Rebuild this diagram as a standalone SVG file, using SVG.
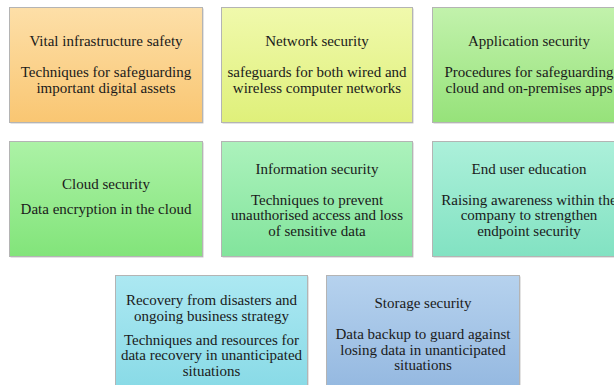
<svg xmlns="http://www.w3.org/2000/svg" width="614" height="385" viewBox="0 0 614 385">
  <defs>
    <linearGradient id="gOrange" x1="0" y1="0" x2="0" y2="1">
      <stop offset="0" stop-color="#fddfa8"/>
      <stop offset="1" stop-color="#f9c672"/>
    </linearGradient>
    <linearGradient id="gLime" x1="0" y1="0" x2="0" y2="1">
      <stop offset="0" stop-color="#f0f9ac"/>
      <stop offset="1" stop-color="#dff07a"/>
    </linearGradient>
    <linearGradient id="gLeaf" x1="0" y1="0" x2="0" y2="1">
      <stop offset="0" stop-color="#c2f2ac"/>
      <stop offset="1" stop-color="#96e27a"/>
    </linearGradient>
    <linearGradient id="gGreen" x1="0" y1="0" x2="0" y2="1">
      <stop offset="0" stop-color="#acf2a6"/>
      <stop offset="1" stop-color="#82e47a"/>
    </linearGradient>
    <linearGradient id="gMint" x1="0" y1="0" x2="0" y2="1">
      <stop offset="0" stop-color="#acf2bc"/>
      <stop offset="1" stop-color="#82e49c"/>
    </linearGradient>
    <linearGradient id="gAqua" x1="0" y1="0" x2="0" y2="1">
      <stop offset="0" stop-color="#acf0da"/>
      <stop offset="1" stop-color="#82e2c2"/>
    </linearGradient>
    <linearGradient id="gCyan" x1="0" y1="0" x2="0" y2="1">
      <stop offset="0" stop-color="#ace8f2"/>
      <stop offset="1" stop-color="#88dae6"/>
    </linearGradient>
    <linearGradient id="gBlue" x1="0" y1="0" x2="0" y2="1">
      <stop offset="0" stop-color="#b6d2ee"/>
      <stop offset="1" stop-color="#94b8e0"/>
    </linearGradient>
  </defs>
  <style>
    .box { stroke: #b4b4b4; stroke-width: 1; }
    .shadow { fill: #9a9a9a; opacity: 0.55; }
    text { font-family: "Liberation Serif", "Times New Roman", serif; font-size: 15px; fill: #1a1a1a; text-anchor: middle; }
  </style>

  <rect width="614" height="385" fill="#ffffff"/>

  <g id="vital-infrastructure">
    <rect class="shadow" x="10.5" y="8.5" width="193" height="115"/>
    <rect class="box" x="9.5" y="7.5" width="193" height="115" fill="url(#gOrange)"/>
    <text x="106" y="46">Vital infrastructure safety</text>
    <text x="106" y="77">Techniques for safeguarding</text>
    <text x="106" y="92.5">important digital assets</text>
  </g>

  <g id="network-security">
    <rect class="shadow" x="222.5" y="8.5" width="191" height="115"/>
    <rect class="box" x="221.5" y="7.5" width="191" height="115" fill="url(#gLime)"/>
    <text x="317" y="46">Network security</text>
    <text x="317" y="77">safeguards for both wired and</text>
    <text x="317" y="92.5">wireless computer networks</text>
  </g>

  <g id="application-security">
    <rect class="shadow" x="433.5" y="8.5" width="193" height="115"/>
    <rect class="box" x="432.5" y="7.5" width="193" height="115" fill="url(#gLeaf)"/>
    <text x="529" y="46">Application security</text>
    <text x="529" y="77">Procedures for safeguarding</text>
    <text x="529" y="92.5">cloud and on-premises apps</text>
  </g>

  <g id="cloud-security">
    <rect class="shadow" x="10.5" y="142.5" width="193" height="115"/>
    <rect class="box" x="9.5" y="141.5" width="193" height="115" fill="url(#gGreen)"/>
    <text x="106" y="189">Cloud security</text>
    <text x="106" y="214">Data encryption in the cloud</text>
  </g>

  <g id="information-security">
    <rect class="shadow" x="222.5" y="142.5" width="191" height="115"/>
    <rect class="box" x="221.5" y="141.5" width="191" height="115" fill="url(#gMint)"/>
    <text x="317" y="173.5">Information security</text>
    <text x="317" y="204.5">Techniques to prevent</text>
    <text x="317" y="220">unauthorised access and loss</text>
    <text x="317" y="235.5">of sensitive data</text>
  </g>

  <g id="end-user-education">
    <rect class="shadow" x="433.5" y="142.5" width="193" height="115"/>
    <rect class="box" x="432.5" y="141.5" width="193" height="115" fill="url(#gAqua)"/>
    <text x="529" y="173.5">End user education</text>
    <text x="529" y="204.5">Raising awareness within the</text>
    <text x="529" y="220">company to strengthen</text>
    <text x="529" y="235.5">endpoint security</text>
  </g>

  <g id="disaster-recovery">
    <rect class="shadow" x="116.5" y="276.5" width="192" height="115"/>
    <rect class="box" x="115.5" y="275.5" width="192" height="115" fill="url(#gCyan)"/>
    <text x="211.5" y="305">Recovery from disasters and</text>
    <text x="211.5" y="320.5">ongoing business strategy</text>
    <text x="211.5" y="344.5">Techniques and resources for</text>
    <text x="211.5" y="360">data recovery in unanticipated</text>
    <text x="211.5" y="375.5">situations</text>
  </g>

  <g id="storage-security">
    <rect class="shadow" x="327.5" y="276.5" width="193" height="115"/>
    <rect class="box" x="326.5" y="275.5" width="193" height="115" fill="url(#gBlue)"/>
    <text x="423" y="308">Storage security</text>
    <text x="423" y="339">Data backup to guard against</text>
    <text x="423" y="354.5">losing data in unanticipated</text>
    <text x="423" y="370">situations</text>
  </g>

  <g id="connectors"/>
</svg>
